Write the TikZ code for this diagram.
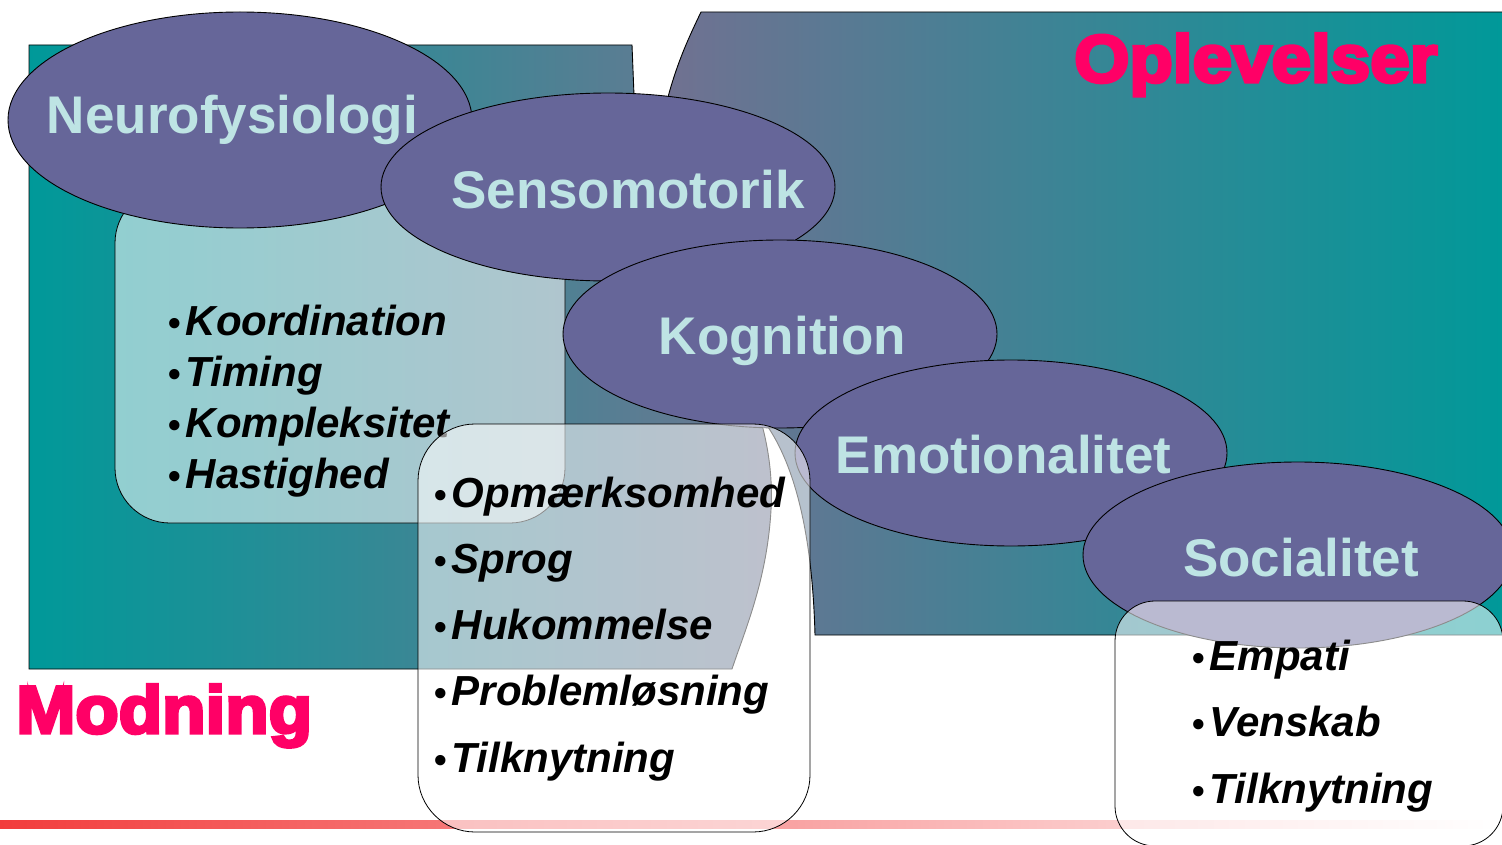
\documentclass[tikz,border=0pt]{standalone}
\usepackage{fontspec}
\setmainfont{Liberation Sans}
\newfontface\headfont{Liberation Sans Bold}[FakeBold=5,FakeStretch=1.06]
\definecolor{tealdark}{RGB}{0,153,153}
\definecolor{slate}{RGB}{112,118,145}
\definecolor{greyviolet}{RGB}{116,112,145}
\definecolor{bubblefill}{RGB}{102,102,153}
\definecolor{bubbletext}{RGB}{190,228,228}
\definecolor{hotpink}{RGB}{255,0,102}
\definecolor{linered}{RGB}{242,60,60}
\definecolor{linepink}{RGB}{250,185,185}

\newcommand{\itemdot}{{\upshape\fontsize{36}{36}\selectfont\textbullet}\hspace{5pt}}

\tikzset{
  bubble/.style={draw=black, line width=0.9pt, fill=bubblefill},
  bubblelabel/.style={text=bubbletext, font=\fontsize{53}{60}\selectfont\bfseries,
    inner sep=0pt, anchor=base},
  itembox/.style={draw=black, line width=0.8pt, fill=white, fill opacity=0.55},
  item/.style={font=\fontsize{42}{48}\selectfont\bfseries\itshape,
    inner sep=0pt, anchor=base west},
  headline/.style={text=hotpink, font={\headfont\fontsize{67}{72}\selectfont},
    inner sep=0pt, anchor=base west},
}

\begin{document}
\begin{tikzpicture}[x=1pt,y=-1pt]
    \useasboundingbox (0,0) rectangle (1502,845);
    \clip (0,0) rectangle (1502,845);
    \fill[white] (0,0) rectangle (1502,845);
    % bottom rule
    \shade[left color=linered, middle color=linepink, right color=white]
      (0,820) rectangle (1502,828);
    % the two backgrounds
    \shade[left color=tealdark, right color=slate] (29,45) -- (632,45) -- (634,95)
      .. controls (640,250) and (780,350) .. (771,510)
      .. controls (767,580) and (745,630) .. (732,669) -- (29,669) -- cycle;
    \draw[line width=0.9pt] (29,45) -- (632,45) -- (634,95)
      .. controls (640,250) and (780,350) .. (771,510)
      .. controls (767,580) and (745,630) .. (732,669) -- (29,669) -- cycle;
    \shade[left color=greyviolet, right color=tealdark] (815,635)
      .. controls (812,520) and (790,460) .. (768,427)
      .. controls (700,330) and (640,200) .. (668,97)
      .. controls (678,60) and (690,35) .. (701,12) -- (1508,12) -- (1508,635) -- cycle;
    \draw[line width=0.9pt] (815,635)
      .. controls (812,520) and (790,460) .. (768,427)
      .. controls (700,330) and (640,200) .. (668,97)
      .. controls (678,60) and (690,35) .. (701,12) -- (1508,12) -- (1508,635) -- cycle;
    % first list
    \draw[itembox, rounded corners=55pt] (115,188) rectangle (565,523);
    \foreach \txt [count=\i] in {Koordination,Timing,Kompleksitet,Hastighed}
      \node[item] (motor-\i) at (168,{335+51*(\i-1)}) {\itemdot\txt};
    % the five bubbles
    \draw[bubble] (240,120) ellipse (232pt and 108pt);
    \node[bubblelabel] (neuro) at (232.5,134) {Neurofysiologi};
    \draw[bubble] (608,187) ellipse (227pt and 94pt);
    \node[bubblelabel] (senso) at (628,209) {Sensomotorik};
    \draw[bubble] (780,334) ellipse (217pt and 94pt);
    \node[bubblelabel] (kogn) at (782.5,354) {Kognition};
    \draw[bubble] (1011,453) ellipse (216pt and 93pt);
    \node[bubblelabel] (emo) at (1003.5,473) {Emotionalitet};
    \draw[bubble] (1298,555) ellipse (215pt and 93pt);
    \node[bubblelabel] (social) at (1301,576) {Socialitet};
    % second and third list
    \draw[itembox, rounded corners=57pt] (418,424) rectangle (810,832);
    \foreach \txt [count=\i] in {Opmærksomhed,Sprog,Hukommelse,Problemløsning,Tilknytning}
      \node[item] (kogn-\i) at (434,{507+66.25*(\i-1)}) {\itemdot\txt};
    \draw[itembox, rounded corners=40pt] (1115,601) rectangle (1503,846);
    \foreach \txt [count=\i] in {Empati,Venskab,Tilknytning}
      \node[item] (social-\i) at (1192,{670+66.5*(\i-1)}) {\itemdot\txt};
    % headings
    \node[headline] (oplev) at (1074,82) {Oplevelser};
    \node[headline] (modn) at (16,733) {Modning};
  \end{tikzpicture}
\end{document}
